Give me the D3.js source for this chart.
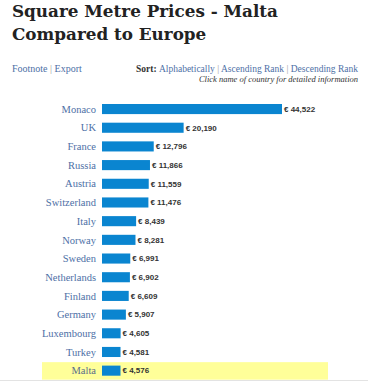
<!DOCTYPE html>
<html>
<head>
<meta charset="utf-8">
<style>
body{ margin:0; background:#fff; }
.title{ font-family:"DejaVu Serif", Georgia, serif; font-weight:bold; fill:#222; }
.link{ font-family:"Liberation Serif", Georgia, serif; fill:#4d6fa6; }
.country{ font-family:"Liberation Serif", Georgia, serif; fill:#4d6fa6; font-size:10.5px; }
.value{ font-family:"Liberation Sans", Arial, sans-serif; font-weight:bold; fill:#333; font-size:8px; }
</style>
</head>
<body>
<script src="https://cdnjs.cloudflare.com/ajax/libs/d3/7.8.5/d3.min.js"></script>
<script>
  var WIDTH = 368;
  var HEIGHT = 381;

  var countries = ["Monaco","UK","France","Russia","Austria","Switzerland","Italy","Norway","Sweden","Netherlands","Finland","Germany","Luxembourg","Turkey","Malta"];
  var prices = [44522,20190,12796,11866,11559,11476,8439,8281,6991,6902,6609,5907,4605,4581,4576];
  var highlight = "Malta";

  var data = countries.map((c,i) => ({country:c, price:prices[i]}));

  var svg = d3.select("body").append("svg")
    .attr("width", WIDTH)
    .attr("height", HEIGHT);

  // header
  svg.append("text").attr("class","title")
    .attr("x", 12).attr("y", 16.5).style("font-size","16.8px")
    .text("Square Metre Prices - Malta");
  svg.append("text").attr("class","title")
    .attr("x", 12).attr("y", 40).style("font-size","16.8px")
    .text("Compared to Europe");

  var left = svg.append("text").attr("class","link")
    .attr("x", 12).attr("y", 72).style("font-size","10px");
  left.append("tspan").text("Footnote");
  left.append("tspan").style("fill","#999").text(" | ");
  left.append("tspan").text("Export");

  var sort = svg.append("text").attr("class","link")
    .attr("x", 358).attr("y", 72).attr("text-anchor","end").style("font-size","9.5px");
  sort.append("tspan").style("fill","#333").style("font-weight","bold").text("Sort: ");
  sort.append("tspan").text("Alphabetically");
  sort.append("tspan").style("fill","#999").text(" | ");
  sort.append("tspan").text("Ascending Rank");
  sort.append("tspan").style("fill","#999").text(" | ");
  sort.append("tspan").text("Descending Rank");

  svg.append("text")
    .attr("x", 358).attr("y", 82).attr("text-anchor","end")
    .style("font-family","\"Liberation Serif\", Georgia, serif")
    .style("font-style","italic").style("font-size","8.5px").style("fill","#333")
    .text("Click name of country for detailed information");

  // chart
  var xScale = d3.scaleLinear()
    .domain([0, d3.max(prices)])
    .range([102, 282]);

  var yScale = d3.scaleBand()
    .domain(countries)
    .range([99.7, 380])
    .paddingInner(0.46)
    .paddingOuter(0.23);

  svg.append("rect")
    .attr("x", 42).attr("width", 286)
    .attr("y", yScale(highlight) + yScale.bandwidth()/2 - 8.5)
    .attr("height", 17.5)
    .attr("fill", "#ffff99");

  svg.append("line")
    .attr("x1", 0).attr("x2", WIDTH)
    .attr("y1", 380.5).attr("y2", 380.5)
    .attr("stroke", "#e3e3e3");

  var rows = svg.selectAll("g.row")
    .data(data)
    .enter()
    .append("g")
      .attr("class","row")
      .attr("transform", d => `translate(0,${yScale(d.country)})`);

  rows.append("rect")
    .attr("x", xScale(0))
    .attr("width", d => xScale(d.price) - xScale(0))
    .attr("height", yScale.bandwidth())
    .attr("fill", "#0a85d0");

  rows.append("text")
    .attr("class","country")
    .attr("x", 96)
    .attr("y", yScale.bandwidth()/2)
    .attr("dy", "0.35em")
    .attr("text-anchor","end")
    .style("fill", d => d.country === highlight ? "#5a6e8a" : null)
    .text(d => d.country);

  rows.append("text")
    .attr("class","value")
    .attr("x", d => xScale(d.price) + 2)
    .attr("y", yScale.bandwidth()/2)
    .attr("dy", "0.35em")
    .text(d => "€ " + d3.format(",")(d.price));
</script>
</body>
</html>
